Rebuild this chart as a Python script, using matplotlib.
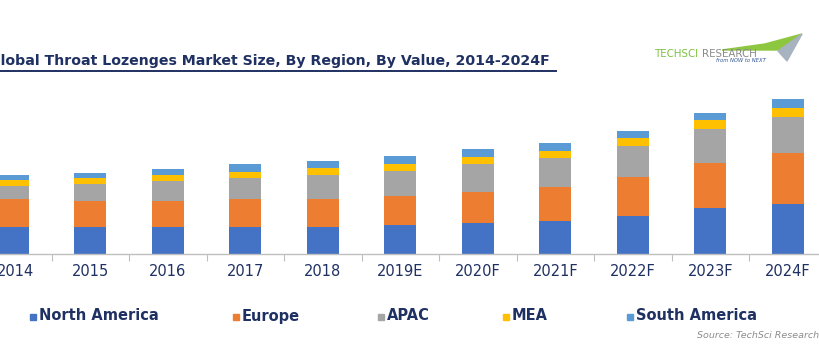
import numpy as np
import matplotlib
matplotlib.use('Agg')
import matplotlib.pyplot as plt
from matplotlib.patches import Polygon, Rectangle

years = ['2014', '2015', '2016', '2017', '2018', '2019E', '2020F', '2021F', '2022F', '2023F', '2024F']
regions = ['North America', 'Europe', 'APAC', 'MEA', 'South America']
north_america = [27, 27, 27, 27, 27, 29, 31, 33, 38, 46, 50]
europe = [28, 26, 26, 28, 28, 29, 31, 34, 39, 45, 51]
apac = [13, 17, 20, 21, 24, 25, 28, 29, 31, 34, 36]
mea = [6, 6, 6, 6, 7, 7, 7, 7, 8, 9, 9]
south_america = [5, 5, 6, 8, 7, 8, 8, 8, 7, 7, 9]
colors = ['#4472C4', '#ED7D31', '#A5A5A5', '#FFC000', '#5B9BD5']
navy = '#1F3062'

W, H = 820, 350
fig = plt.figure(figsize=(W / 100, H / 100), dpi=100)

# axes: baseline at y=254 px, category spacing 77.5 px, first centre at 13 px
ax = fig.add_axes([0, (H - 254) / H, 1, 169 / H])
x = np.arange(len(years))
step = 77.5

bottom = np.zeros(len(years))
for vals, c in zip([north_america, europe, apac, mea, south_america], colors):
    ax.bar(x, vals, width=32 / step, bottom=bottom, color=c, edgecolor='none', zorder=2)
    bottom += np.array(vals)

for s in ['top', 'right', 'left']:
    ax.spines[s].set_visible(False)
ax.spines['bottom'].set_color('#BFBFBF')
ax.spines['bottom'].set_linewidth(1.0)
ax.set_yticks([])
ax.set_xticks(x[1:] - 0.5)
ax.set_xticklabels([])
ax.tick_params(axis='x', length=5, color='#BFBFBF', direction='out')
ax.set_xlim(-13 / step, (W - 13) / step)
ax.set_ylim(0, 169)
for i, y in enumerate(years):
    ax.text(i + (0.03 if i == 0 else 0), -18, y, ha='center', va='center', fontsize=10.5,
            color=navy, family='DejaVu Sans')

# title with underline (left edge cut like the source image)
fig.text(-11 / W, 1 - 61 / H, 'Global Throat Lozenges Market Size, By Region, By Value, 2014-2024F',
         fontsize=10.2, fontweight='bold', color=navy, ha='left', va='center',
         family='DejaVu Sans')
fig.add_artist(plt.Line2D([0, 556 / W], [1 - 71 / H, 1 - 71 / H], color=navy, lw=1.4))

# logo
fig.add_artist(Polygon([[722 / W, 1 - 50 / H], [765 / W, 1 - 44 / H], [802 / W, 1 - 34 / H],
                        [781 / W, 1 - 50 / H]],
                       closed=True, color='#8DC63F', transform=fig.transFigure))
fig.add_artist(Polygon([[778 / W, 1 - 51 / H], [802 / W, 1 - 34 / H], [787 / W, 1 - 61 / H]],
                       closed=True, color='#A7B3C0', transform=fig.transFigure))
fig.text(654 / W, 1 - 54 / H, 'TECHSCI', fontsize=7.4, color='#7DC242', ha='left', va='center',
         family='DejaVu Sans')
fig.text(702 / W, 1 - 54 / H, 'RESEARCH', fontsize=7.4, color='#8A8A8A', ha='left', va='center',
         family='DejaVu Sans')
fig.text(716 / W, 1 - 61 / H, 'from NOW to NEXT', fontsize=3.8, color='#2F5597', style='italic',
         ha='left', va='center')

# legend
leg_x = [30, 233, 378, 503, 627]
for lx, name, c in zip(leg_x, regions, colors):
    fig.add_artist(Rectangle((lx / W, 1 - 320 / H), 6 / W, 6 / H, color=c,
                             transform=fig.transFigure))
    fig.text((lx + 9) / W, 1 - 316 / H, name, fontsize=10.5, fontweight='bold', color=navy,
             ha='left', va='center', family='Liberation Sans Narrow')

fig.text(819 / W, 1 - 335 / H, 'Source: TechSci Research', fontsize=6.8, style='italic',
         color='#8C8C8C', ha='right', va='center')

fig.savefig('out.png', dpi=100)
